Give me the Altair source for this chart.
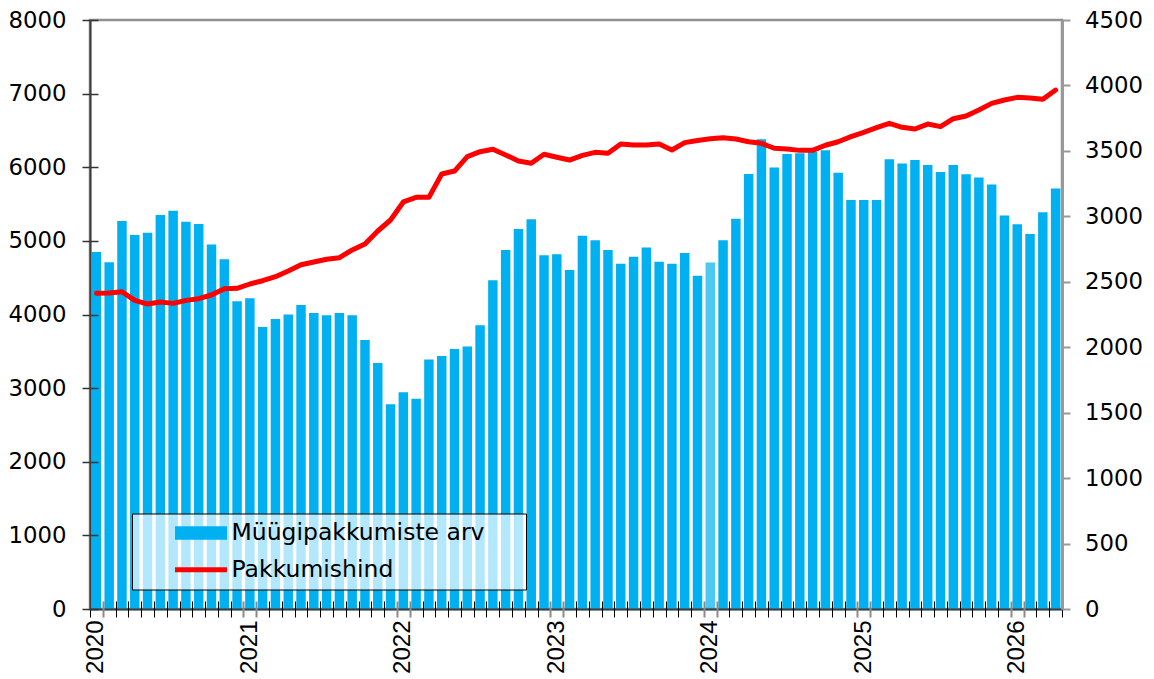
import altair as alt
import pandas as pd

# Monthly categories, Jan 2020 .. Apr 2026
months = [f"{y}-{m:02d}" for y in range(2020, 2027) for m in range(1, 13)][:76]

# Number of sale offers (left axis)
offers = [
    4850, 4710, 5270, 5080, 5110, 5350, 5410, 5260, 5230, 4950, 4750, 4180,
    4220, 3830, 3940, 4000, 4130, 4020, 3990, 4020, 3990, 3655, 3340, 2780,
    2945, 2855, 3390, 3435, 3530, 3565, 3855, 4465, 4875, 5160, 5295, 4805,
    4820, 4605, 5070, 5010, 4875, 4690, 4785, 4910, 4715, 4690, 4835, 4525,
    4705, 5010, 5300, 5910, 6380, 5995, 6180, 6190, 6210, 6230, 5925, 5555,
    5555, 5555, 6110, 6050, 6100, 6030, 5935, 6030, 5905, 5860, 5765, 5345,
    5225, 5095, 5390, 5710,
]

# Offer price (right axis)
prices = [
    2412, 2414, 2424, 2358, 2330, 2345, 2335, 2358, 2371, 2399, 2447, 2450,
    2483, 2508, 2539, 2582, 2630, 2651, 2672, 2684, 2743, 2789, 2888, 2972,
    3110, 3145, 3145, 3323, 3346, 3456, 3494, 3512, 3469, 3423, 3405, 3474,
    3451, 3430, 3466, 3489, 3482, 3553, 3545, 3545, 3553, 3507, 3563, 3580,
    3592, 3601, 3591, 3570, 3558, 3520, 3514, 3504, 3504, 3543, 3570, 3609,
    3642, 3677, 3711, 3680, 3667, 3705, 3685, 3746, 3766, 3812, 3863, 3889,
    3909, 3904, 3894, 3965,
]

bar_name = "Müügipakkumiste arv"
line_name = "Pakkumishind"
bar_color = "#00B0F0"
line_color = "#FF0000"
left_ticks = list(range(0, 8001, 1000))
right_ticks = list(range(0, 4501, 500))

df = pd.DataFrame({"month": months, "offers": offers, "price": prices})

FONT = "DejaVu Sans"
FS = 23.5      # legend text
AFS = 22.8     # axis tick labels

# Boxed legend: carries both labels; the second symbol is transparent and the
# red line symbol is drawn by the stroke legend on top of it.
legend_bar = alt.Legend(
    orient="none", legendX=42, legendY=493.5, direction="vertical",
    title="\u00a0", titleOrient="right", titleFontSize=20, titlePadding=33.5,
    titleOpacity=0,
    fillColor="rgba(255,255,255,0.7)", strokeColor="#000000", padding=7.5,
    symbolType="M-1,-0.256L1,-0.256L1,0.256L-1,0.256Z", symbolSize=2704,
    symbolStrokeWidth=5, symbolStrokeColor="transparent", symbolOpacity=1,
    symbolOffset=33, labelOffset=2, clipHeight=24, rowPadding=12.8,
    labelFont=FONT, labelFontSize=FS, labelColor="#000000", labelLimit=600,
    zindex=1,
)

legend_line = alt.Legend(
    orient="none", legendX=42, legendY=530.3, direction="vertical",
    title=None, padding=7.5,
    symbolType="stroke", symbolSize=2704, symbolStrokeWidth=5,
    symbolStrokeColor=line_color, symbolOpacity=1,
    symbolOffset=33, labelOffset=2, clipHeight=24,
    labelExpr="''", zindex=2,
)

xscale = alt.Scale(paddingInner=0, paddingOuter=0)
year_tick = "indexof(['01','12'], substring(datum.value, 5, 7)) >= 0"

base = alt.Chart(df)

bars = base.mark_bar(width=alt.RelativeBandSize(band=0.74)).transform_calculate(
    series="'Müügipakkumiste arv'"
).encode(
    x=alt.X(
        "month:O",
        scale=xscale,
        axis=alt.Axis(
            orient="bottom", title=None, ticks=False, tickSize=0,
            domain=True, domainColor="#3c3c3c", domainWidth=2,
            labelAngle=270, labelPadding=11, labelFont="Liberation Sans",
            labelFontSize=24, labelColor="#000000", labelOverlap=False,
            labelExpr="substring(datum.value, 5, 7) == '01' ? substring(datum.value, 0, 4) : ''",
            grid=False, zindex=2,
        ),
    ),
    y=alt.Y(
        "offers:Q",
        scale=alt.Scale(domain=[0, 8000]),
        axis=alt.Axis(
            orient="left", title=None, values=left_ticks, format="d", offset=-8,
            tickSize=16, tickColor="#333333", tickWidth=1.5, domain=False,
            labelPadding=16, labelFont=FONT, labelFontSize=AFS,
            labelColor="#000000", grid=False, zindex=2,
        ),
    ),
    fill=alt.Fill("series:N",
                  scale=alt.Scale(domain=[bar_name, line_name], range=[bar_color, "transparent"]),
                  legend=legend_bar),
    opacity=alt.condition("datum.month == '2024-01'", alt.value(0.7), alt.value(1)),
)

frame = base.mark_bar(width=alt.RelativeBandSize(band=0.74), opacity=0).encode(
    x=alt.X(
        "month:O",
        axis=alt.Axis(
            orient="bottom", title=None, offset=-8, tickSize=16,
            tickBand="extent", labels=False, domain=False,
            tickColor={"condition": {"test": year_tick, "value": "#8a8a8a"}, "value": "#000000"},
            tickWidth={"condition": {"test": year_tick, "value": 2}, "value": 1},
            grid=False, zindex=2,
        ),
    ),
    y=alt.Y(
        "offers:Q",
        axis=alt.Axis(
            orient="left", title=None, ticks=False, labels=False,
            domain=True, domainColor="#3c3c3c", domainWidth=2,
            grid=False, zindex=2,
        ),
    ),
)

left = alt.layer(bars, frame).resolve_axis(x="independent", y="independent")

line = base.mark_line(strokeWidth=5, strokeCap="round", strokeJoin="round").transform_calculate(
    series="'Pakkumishind'"
).encode(
    x=alt.X("month:O", axis=None),
    y=alt.Y(
        "price:Q",
        scale=alt.Scale(domain=[0, 4500]),
        axis=alt.Axis(
            orient="right", title=None, values=right_ticks, format="d", tickSize=8,
            tickColor="#999999", tickWidth=2, domainColor="#999999",
            domainWidth=3, labelPadding=14.5, labelFont=FONT, labelFontSize=AFS,
            labelColor="#000000", grid=False, zindex=2,
        ),
    ),
    stroke=alt.Stroke("series:N", scale=alt.Scale(domain=[line_name], range=[line_color]),
                      legend=legend_line),
)

chart = alt.layer(left, line).resolve_scale(y="independent").properties(
    width=972,
    height=589,
    padding={"left": 82, "top": 12, "right": 84, "bottom": 64},
    autosize=alt.AutoSizeParams(type="none"),
).configure_view(stroke="#8f8f8f", strokeWidth=2.5)

chart.save("out.html", embed_options={"renderer": "svg", "actions": False})
